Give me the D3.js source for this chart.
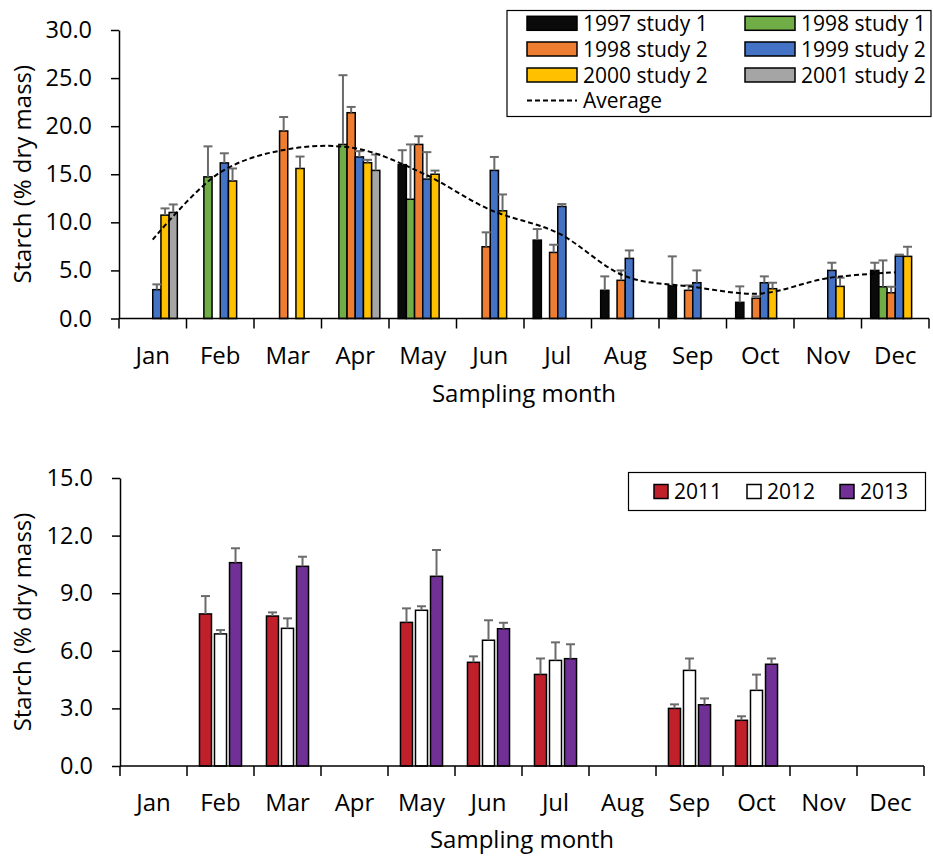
<!DOCTYPE html>
<html>
<head>
<meta charset="utf-8">
<script src="https://cdn.jsdelivr.net/npm/d3@7"></script>
<style>
  body { margin: 0; background: #fff; }
  svg { display: block; font-family: "Open Sans", "Noto Sans", sans-serif; }
</style>
</head>
<body>
<svg id="chart" width="933" height="857"></svg>
<script>
// months on both x axes
var months = ["Jan", "Feb", "Mar", "Apr", "May", "Jun", "Jul", "Aug", "Sep", "Oct", "Nov", "Dec"];

// top panel: starch (% dry mass) per month, null = not sampled
var series1997s1 = [null, null, null, null, 16.0, null, 8.15, 2.93, 3.41, 1.68, null, 5.0];
var err1997s1    = [null, null, null, null, 1.5, null, 1.15, 1.45, 3.05, 1.66, null, 0.8];
var series1998s1 = [null, 14.73, null, 18.1, 12.4, null, null, null, null, null, null, 3.3];
var err1998s1    = [null, 3.17, null, 7.2, 5.7, null, null, null, null, null, null, 2.74];
var series1998s2 = [null, null, 19.5, 21.4, 18.1, 7.46, 6.87, 3.97, 2.93, 2.1, null, 2.68];
var err1998s2    = [null, null, 1.45, 0.6, 0.85, 1.5, 0.8, 1.03, 0.52, 0.2, null, 0.62];
var series1999s2 = [3.0, 16.18, null, 16.8, 14.5, 15.4, 11.65, 6.25, 3.72, 3.72, 5.0, 6.49];
var err1999s2    = [0.55, 1.0, null, 0.6, 2.8, 1.4, 0.25, 0.83, 1.28, 0.66, 0.8, 0.15];
var series2000s2 = [10.75, 14.3, 15.6, 16.2, 15.0, 11.2, null, null, null, 3.1, 3.34, 6.46];
var err2000s2    = [0.7, 1.3, 1.24, 0.3, 0.38, 1.7, null, null, null, 0.62, 0.9, 1.0];
var series2001s2 = [11.03, null, null, 15.4, null, null, null, null, null, null, null, null];
var err2001s2    = [0.83, null, null, 1.65, null, null, null, null, null, null, null, null];
var average      = [8.2, 15.2, 17.6, 17.7, 15.1, 11.3, 8.9, 4.4, 3.3, 2.6, 4.2, 4.8];
var topTicks = [0, 5, 10, 15, 20, 25, 30];

// bottom panel
var series2011 = [null, 7.92, 7.81, null, 7.48, 5.4, 4.77, null, 3.0, 2.38, null, null];
var err2011    = [null, 0.93, 0.19, null, 0.73, 0.31, 0.83, null, 0.21, 0.21, null, null];
var series2012 = [null, 6.88, 7.17, null, 8.11, 6.55, 5.5, null, 4.98, 3.94, null, null];
var err2012    = [null, 0.2, 0.52, null, 0.21, 1.04, 0.94, null, 0.62, 0.82, null, null];
var series2013 = [null, 10.59, 10.4, null, 9.88, 7.15, 5.59, null, 3.19, 5.3, null, null];
var err2013    = [null, 0.75, 0.5, null, 1.37, 0.31, 0.75, null, 0.33, 0.3, null, null];
var bottomTicks = [0, 3, 6, 9, 12, 15];

var topSeries = [
  { name: "1997 study 1", values: series1997s1, errors: err1997s1, color: "#0a0a0a" },
  { name: "1998 study 1", values: series1998s1, errors: err1998s1, color: "#70ad47" },
  { name: "1998 study 2", values: series1998s2, errors: err1998s2, color: "#ed7d31" },
  { name: "1999 study 2", values: series1999s2, errors: err1999s2, color: "#4472c4" },
  { name: "2000 study 2", values: series2000s2, errors: err2000s2, color: "#ffc000" },
  { name: "2001 study 2", values: series2001s2, errors: err2001s2, color: "#a5a5a5" }
];
var bottomSeries = [
  { name: "2011", values: series2011, errors: err2011, color: "#c0202a" },
  { name: "2012", values: series2012, errors: err2012, color: "#ffffff" },
  { name: "2013", values: series2013, errors: err2013, color: "#703096" }
];

var svg = d3.select("#chart");

function drawPanel(opt) {
  var g = svg.append("g");
  var x0 = d3.scaleBand().domain(months).range([opt.left, opt.right]);
  var x1 = d3.scaleBand().domain(opt.series.map(function(s) { return s.name; }))
      .range([0, x0.bandwidth()])
      .paddingInner(opt.innerPad)
      .paddingOuter(opt.outerPad);
  var y = d3.scaleLinear().domain(opt.yDomain).range([opt.bottom, opt.top]);

  // bars
  opt.series.forEach(function(s) {
    var pts = months.map(function(m, i) { return { m: m, v: s.values[i], e: s.errors[i] }; })
      .filter(function(d) { return d.v != null; });
    g.append("g").selectAll("rect")
      .data(pts)
      .enter().append("rect")
      .attr("x", function(d) { return x0(d.m) + x1(s.name); })
      .attr("y", function(d) { return y(d.v); })
      .attr("width", x1.bandwidth())
      .attr("height", function(d) { return y(0) - y(d.v); })
      .style("fill", s.color)
      .style("stroke", "#000")
      .style("stroke-width", 1.5);
  });

  // error bars (upper only)
  opt.series.forEach(function(s) {
    var pts = months.map(function(m, i) { return { m: m, v: s.values[i], e: s.errors[i] }; })
      .filter(function(d) { return d.v != null && d.e != null; });
    var eg = g.append("g").selectAll("g").data(pts).enter().append("g")
      .style("stroke", "#6b6b6b")
      .style("stroke-width", 2);
    eg.append("line")
      .attr("x1", function(d) { return x0(d.m) + x1(s.name) + x1.bandwidth() / 2; })
      .attr("x2", function(d) { return x0(d.m) + x1(s.name) + x1.bandwidth() / 2; })
      .attr("y1", function(d) { return y(d.v); })
      .attr("y2", function(d) { return y(d.v + d.e); });
    eg.append("line")
      .attr("x1", function(d) { return x0(d.m) + x1(s.name) + x1.bandwidth() / 2 - 4.5; })
      .attr("x2", function(d) { return x0(d.m) + x1(s.name) + x1.bandwidth() / 2 + 4.5; })
      .attr("y1", function(d) { return y(d.v + d.e); })
      .attr("y2", function(d) { return y(d.v + d.e); });
  });

  // dashed average curve
  if (opt.average) {
    var line = d3.line()
      .x(function(d, i) { return x0(months[i]) + x0.bandwidth() / 2; })
      .y(function(d) { return y(d); })
      .curve(d3.curveCatmullRom.alpha(0.5));
    g.append("path")
      .datum(opt.average)
      .attr("d", line)
      .style("fill", "none")
      .style("stroke", "#000")
      .style("stroke-width", 2)
      .style("stroke-dasharray", "5,3");
  }

  // y axis
  var yAxis = g.append("g")
    .attr("transform", "translate(" + opt.left + ",0)")
    .call(d3.axisLeft(y).tickValues(opt.yTicks).tickSize(8).tickSizeOuter(0).tickPadding(19)
      .tickFormat(d3.format(".1f")));
  yAxis.select(".domain").style("stroke-width", 1.5);
  yAxis.selectAll(".tick line").style("stroke-width", 1.5);
  yAxis.selectAll("text").style("font-size", "23.5px").style("fill", "#000")
    .style("font-family", "'Open Sans', sans-serif");

  // x axis: ticks at band edges
  var xg = g.append("g").attr("transform", "translate(0," + y(0) + ")");
  xg.append("line")
    .attr("x1", opt.left).attr("x2", opt.right)
    .style("stroke", "#000").style("stroke-width", 1.5);
  var edges = months.map(function(m) { return x0(m); }).concat([opt.right]);
  xg.selectAll(".xt").data(edges).enter().append("line")
    .attr("x1", function(d) { return d; }).attr("x2", function(d) { return d; })
    .attr("y1", 0).attr("y2", 10)
    .style("stroke", "#000").style("stroke-width", 1.5);
  xg.selectAll(".xl").data(months).enter().append("text")
    .attr("x", function(d) { return x0(d) + x0.bandwidth() / 2; })
    .attr("y", opt.monthBaseline - y(0))
    .attr("text-anchor", "middle")
    .style("font-size", "24px")
    .text(function(d) { return d; });

  // axis titles
  g.append("text")
    .attr("x", (opt.left + opt.right) / 2)
    .attr("y", opt.titleBaseline)
    .attr("text-anchor", "middle")
    .style("font-size", "24px")
    .text("Sampling month");
  g.append("text")
    .attr("transform", "translate(" + 31 + "," + ((opt.top + opt.bottom) / 2) + ") rotate(-90)")
    .attr("text-anchor", "middle")
    .style("font-size", "24px")
    .text("Starch (% dry mass)");

  return g;
}

drawPanel({
  series: topSeries, left: 119, right: 929, top: 30, bottom: 318.5,
  yDomain: [0, 30], yTicks: topTicks, innerPad: 0, outerPad: 1.12,
  average: average, monthBaseline: 364, titleBaseline: 402
});

drawPanel({
  series: bottomSeries, left: 120, right: 924, top: 478, bottom: 766,
  yDomain: [0, 15], yTicks: bottomTicks, innerPad: 0.2, outerPad: 0.83,
  average: null, monthBaseline: 811, titleBaseline: 848
});

// top legend
var leg1 = svg.append("g");
leg1.append("rect")
  .attr("x", 507).attr("y", 10.5).attr("width", 424).attr("height", 106)
  .style("fill", "#fff").style("stroke", "#000").style("stroke-width", 1.2);
var legCols = [527, 745];
var legRows = [23.3, 49, 75];
topSeries.forEach(function(s, i) {
  var lx = legCols[i % 2], ly = legRows[Math.floor(i / 2)];
  leg1.append("rect")
    .attr("x", lx).attr("y", ly - 7).attr("width", 50).attr("height", 14)
    .style("fill", s.color).style("stroke", "#000").style("stroke-width", 1.5);
  leg1.append("text")
    .attr("x", lx + 56).attr("y", ly + 7.5)
    .style("font-size", "21px")
    .text(s.name);
});
leg1.append("line")
  .attr("x1", 527).attr("x2", 577).attr("y1", 100.5).attr("y2", 100.5)
  .style("stroke", "#000").style("stroke-width", 2).style("stroke-dasharray", "5,3");
leg1.append("text")
  .attr("x", 583).attr("y", 108)
  .style("font-size", "21px")
  .text("Average");

// bottom legend
var leg2 = svg.append("g");
leg2.append("rect")
  .attr("x", 628.5).attr("y", 472.5).attr("width", 297).attr("height", 38)
  .style("fill", "#fff").style("stroke", "#000").style("stroke-width", 1.2);
var leg2X = [654, 747, 840];
bottomSeries.forEach(function(s, i) {
  leg2.append("rect")
    .attr("x", leg2X[i]).attr("y", 484.5).attr("width", 14).attr("height", 14)
    .style("fill", s.color).style("stroke", "#000").style("stroke-width", 1.5);
  leg2.append("text")
    .attr("x", leg2X[i] + 20).attr("y", 499)
    .style("font-size", "21px")
    .text(s.name);
});
</script>
</body>
</html>
